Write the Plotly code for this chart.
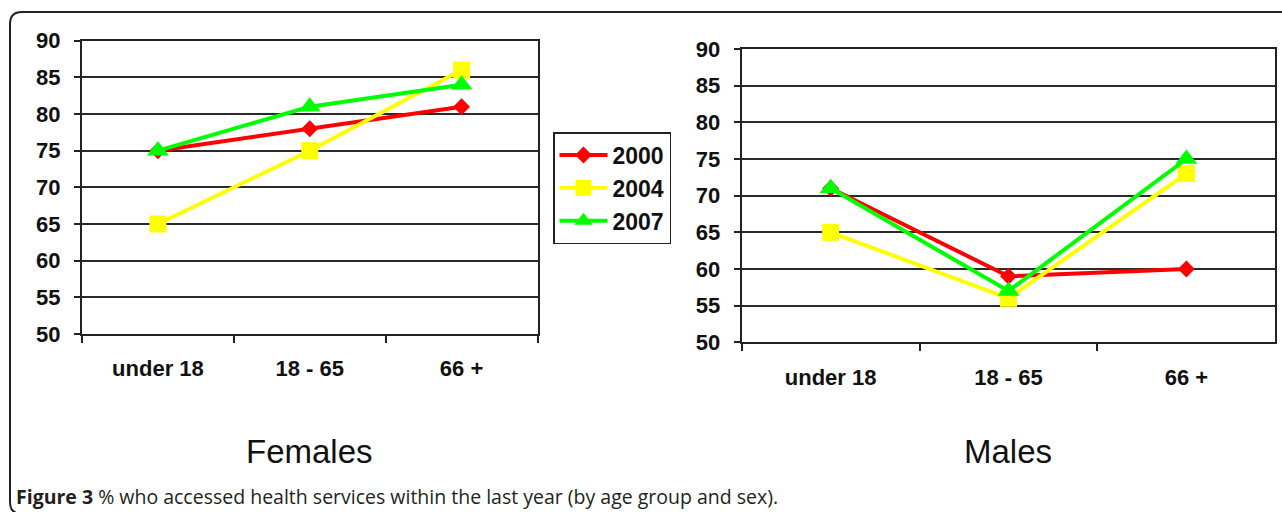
import plotly.graph_objects as go

# Age groups on the category axis
age_groups = ["under 18", "18 - 65", "66 +"]

# % who accessed health services within the last year
females_2000 = [75, 78, 81]
females_2004 = [65, 75, 86]
females_2007 = [75, 81, 84]

males_2000 = [71, 59, 60]
males_2004 = [65, 56, 73]
males_2007 = [71, 57, 75]

years = ["2000", "2004", "2007"]
y_ticks = [50, 55, 60, 65, 70, 75, 80, 85, 90]

W, H = 1282, 512
FONT = "Liberation Sans, Arial, sans-serif"

styles = {
    "2000": dict(color="#ff0000", symbol="diamond", size=13),
    "2004": dict(color="#ffff00", symbol="square", size=17),
    "2007": dict(color="#00ff00", symbol="triangle-up", size=19),
}

fig = go.Figure()

series = [
    ("x", "y", [females_2000, females_2004, females_2007], True),
    ("x2", "y2", [males_2000, males_2004, males_2007], False),
]
for xa, ya, values, show in series:
    for year, vals in zip(years, values):
        st = styles[year]
        fig.add_trace(go.Scatter(
            x=age_groups, y=vals, name=year, xaxis=xa, yaxis=ya,
            mode="lines+markers", showlegend=show, legendgroup=year,
            line=dict(color=st["color"], width=4),
            marker=dict(color=st["color"], symbol=st["symbol"], size=st["size"],
                        line=dict(width=0)),
            cliponaxis=False,
        ))


def px_x(p):
    return p / W


def px_y(p):
    return 1 - p / H


x_common = dict(
    type="category", categoryorder="array", categoryarray=age_groups,
    range=[-0.5, 2.5], showgrid=False, zeroline=False,
    showline=True, linecolor="#222", linewidth=2, mirror=True,
    ticks="outside", tickson="boundaries", ticklen=7, tickwidth=2, tickcolor="#222",
    tickfont=dict(family=FONT, size=22, color="#111", weight="bold"),
    ticklabelstandoff=14,
)
y_common = dict(
    range=[50, 90], tickvals=y_ticks, showgrid=True, gridcolor="#2a2a2a", gridwidth=2,
    zeroline=False, showline=True, linecolor="#222", linewidth=2, mirror=True,
    ticks="outside", ticklen=6, tickwidth=2, tickcolor="#222",
    tickfont=dict(family=FONT, size=22, color="#111", weight="bold"),
    ticklabelstandoff=9,
)

fig.update_layout(
    width=W, height=H, autosize=False,
    margin=dict(l=0, r=0, t=0, b=0, pad=0, autoexpand=False),
    paper_bgcolor="white", plot_bgcolor="white",
    xaxis=dict(domain=[px_x(82), px_x(537.5)], anchor="y", **x_common),
    yaxis=dict(domain=[px_y(334), px_y(40.7)], anchor="x", **y_common),
    xaxis2=dict(domain=[px_x(741.7), px_x(1275.3)], anchor="y2", **x_common),
    yaxis2=dict(domain=[px_y(342.3), px_y(49)], anchor="x2", **y_common),
    legend=dict(
        x=px_x(553), y=px_y(132), xanchor="left", yanchor="top",
        bordercolor="#222", borderwidth=1.5, bgcolor="white",
        font=dict(family=FONT, size=23, color="#111", weight="bold"),
        itemwidth=48, tracegroupgap=0,
    ),
    showlegend=True,
)

# Panel titles under each chart
fig.add_annotation(text="Females", xref="paper", yref="paper",
                   x=px_x(309), y=px_y(451), xanchor="center", yanchor="middle",
                   showarrow=False, font=dict(family=FONT, size=33, color="#111"))
fig.add_annotation(text="Males", xref="paper", yref="paper",
                   x=px_x(1008), y=px_y(451), xanchor="center", yanchor="middle",
                   showarrow=False, font=dict(family=FONT, size=33, color="#111"))

# Figure caption
fig.add_annotation(
    text="<b>Figure 3</b> % who accessed health services within the last year (by age group and sex).",
    xref="paper", yref="paper", x=px_x(14), y=px_y(496), xanchor="left", yanchor="middle",
    showarrow=False, font=dict(family="Open Sans, sans-serif", size=19.5, color="#231f20"),
)

# Rounded frame around the figure (top, left and bottom-left corner)
r = 12
path = (
    f"M {px_x(10 + r)} {px_y(H + 2)} "
    f"Q {px_x(10)} {px_y(H + 2)} {px_x(10)} {px_y(H + 2 - r)} "
    f"L {px_x(10)} {px_y(12 + r)} "
    f"Q {px_x(10)} {px_y(12)} {px_x(10 + r)} {px_y(12)} "
    f"L {px_x(W + 2)} {px_y(12)}"
)
fig.add_shape(type="path", path=path, xref="paper", yref="paper",
              line=dict(color="#222", width=2))

fig.write_html("out.html")
